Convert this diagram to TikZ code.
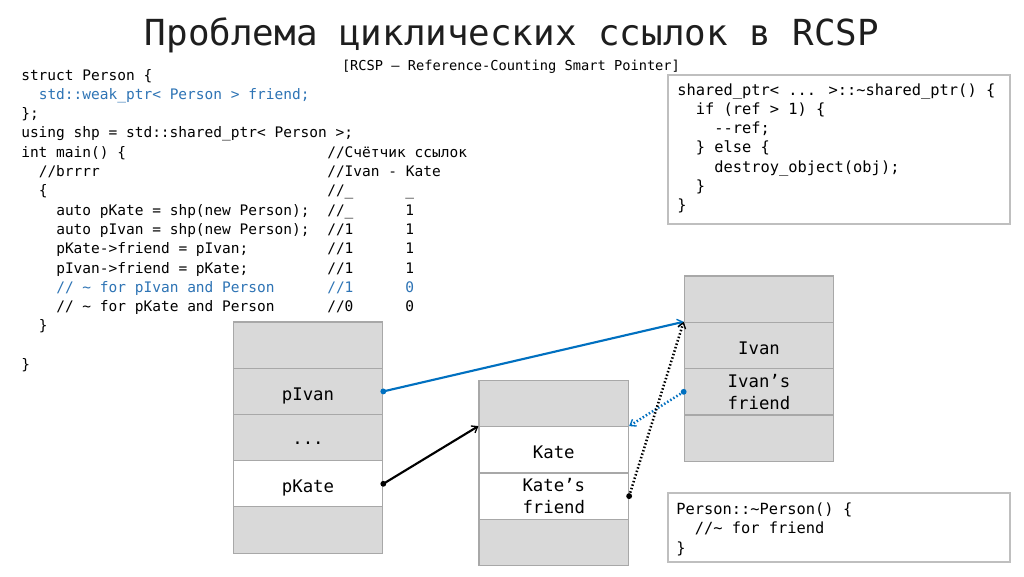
\documentclass[tikz,border=0pt]{standalone}
\usepackage{fontspec}
\usetikzlibrary{arrows.meta}
\newfontfamily\mono{DejaVu Sans Mono}
\definecolor{cblue}{RGB}{0,112,192}
\definecolor{ctxtblue}{RGB}{46,116,181}
\definecolor{cellgray}{RGB}{217,217,217}
\definecolor{cellline}{RGB}{168,168,168}
\definecolor{boxline}{RGB}{191,191,191}
\definecolor{titlecol}{RGB}{30,30,30}
\begin{document}
\begin{tikzpicture}[x=0.75pt,y=-0.75pt,
  code/.style={anchor=base west, inner sep=0pt, font=\mono\fontsize{10.88}{13}\selectfont},
  bcode/.style={anchor=base west, inner sep=0pt, font=\mono\fontsize{11.54}{14}\selectfont},
  bluetxt/.style={text=ctxtblue},
  cell/.style={draw=cellline, line width=0.9pt, fill=cellgray, minimum width=112.1pt, minimum height=34.7pt, inner sep=0pt, font=\mono\fontsize{13}{16.4}\selectfont, align=center},
  wcell/.style={cell, fill=white},
  oneline/.style={text height=13.5pt, text depth=0pt},
  codebox/.style={draw=boxline, line width=0.8pt, fill=white, minimum width=256.5pt, inner sep=0pt},
  tipbarb/.style={-{Straight Barb[length=4pt,width=6pt,line width=1pt]}},
  solidarrow/.style={tipbarb, line width=1.6pt},
  dottedarrow/.style={tipbarb, line width=1.9pt, dash pattern=on 1.1pt off 1.6pt},
  enddot/.style={radius=2.2pt}
]
\useasboundingbox (0,0) rectangle (1024,576);
\fill[white] (0,0) rectangle (1024,576);

% title
\node[anchor=base, inner sep=0pt, text=titlecol, font=\mono\fontsize{26.9}{30}\selectfont] (title) at (512,45) {Проблема циклических ссылок в RCSP};
\node[anchor=base, inner sep=0pt, font=\mono\fontsize{10.27}{12}\selectfont] (subtitle) at (511,70) {[RCSP – Reference-Counting Smart Pointer]};

% left code
\node[code] (c0) at (21,80) {struct Person \{};
\node[code, bluetxt] (c1) at (38.5,99.3) {std::weak\_ptr< Person > friend;};
\node[code] (c2) at (21,118.6) {\};};
\node[code] (c3) at (21,137.9) {using shp = std::shared\_ptr< Person >;};
\node[code] (c4) at (21,157.2) {int main() \{};
\node[code] (c4b) at (327,157.2) {//Счётчик ссылок};
\node[code] (c5) at (38.5,176.5) {//brrrr};
\node[code] (c5b) at (327,176.5) {//Ivan - Kate};
\node[code] (c6) at (38.5,195.8) {\{};
\node[code] (c6b) at (327,195.8) {//\_};
\node[code] (c6c) at (405,195.8) {\_};
\node[code] (c7) at (56,215.1) {auto pKate = shp(new Person);};
\node[code] (c7b) at (327,215.1) {//\_};
\node[code] (c7c) at (405,215.1) {1};
\node[code] (c8) at (56,234.4) {auto pIvan = shp(new Person);};
\node[code] (c8b) at (327,234.4) {//1};
\node[code] (c8c) at (405,234.4) {1};
\node[code] (c9) at (56,253.7) {pKate->friend = pIvan;};
\node[code] (c9b) at (327,253.7) {//1};
\node[code] (c9c) at (405,253.7) {1};
\node[code] (c10) at (56,273) {pIvan->friend = pKate;};
\node[code] (c10b) at (327,273) {//1};
\node[code] (c10c) at (405,273) {1};
\node[code, bluetxt] (c11) at (56,292.3) {// \textasciitilde{} for pIvan and Person};
\node[code, bluetxt] (c11b) at (327,292.3) {//1};
\node[code, bluetxt] (c11c) at (405,292.3) {0};
\node[code] (c12) at (56,311.6) {// \textasciitilde{} for pKate and Person};
\node[code] (c12b) at (327,311.6) {//0};
\node[code] (c12c) at (405,311.6) {0};
\node[code] (c13) at (38.5,330.9) {\}};
\node[code] (c15) at (21,369.5) {\}};

% code box 1
\node[codebox, minimum height=111.75pt] (B1) at (839,149.5) {};
\node[bcode] (b0) at (677,95) {shared\_ptr< ... >::\textasciitilde shared\_ptr() \{};
\node[bcode] (b1) at (695.5,114.3) {if (ref > 1) \{};
\node[bcode] (b2) at (714,133.6) {-{}-ref;};
\node[bcode] (b3) at (695.5,152.9) {\} else \{};
\node[bcode] (b4) at (714,172.2) {destroy\_object(obj);};
\node[bcode] (b5) at (695.5,191.5) {\}};
\node[bcode] (b6) at (677,210.8) {\}};

% code box 2
\node[codebox, minimum height=51.75pt] (B2) at (839,527.5) {};
\node[bcode] (d0) at (676,514) {Person::\textasciitilde Person() \{};
\node[bcode] (d1) at (694.5,533.5) {//\textasciitilde{} for friend};
\node[bcode] (d2) at (676,553) {\}};

% left memory column
\node[cell] (L1) at (308,345.2) {};
\node[cell, oneline] (L2) at (308,391.4) {pIvan};
\node[cell, text height=11pt, text depth=0pt] (L3) at (308,437.6) {...};
\node[wcell, oneline] (L4) at (308,483.8) {pKate};
\node[cell] (L5) at (308,530) {};

% middle memory column
\node[cell] (M1) at (553.8,403.5) {};
\node[wcell, oneline] (M2) at (553.8,449.8) {Kate};
\node[wcell] (M3) at (553.8,496.1) {Kate’s\\friend};
\node[cell] (M4) at (553.8,542.4) {};

% right memory column
\node[cell] (R1) at (759,299.2) {};
\node[cell, oneline] (R2) at (759,345.5) {Ivan};
\node[cell] (R3) at (759,391.8) {Ivan’s\\friend};
\node[cell] (R4) at (759,438.1) {};

% connectors
\draw[solidarrow, cblue] (L2.east) -- (R2.north west);
\fill[cblue] (L2.east) circle[enddot];
\draw[solidarrow, black] (L4.east) -- (M2.north west);
\fill[black] (L4.east) circle[enddot];
\draw[dottedarrow, cblue] (R3.west) -- (M2.north east);
\fill[cblue] (R3.west) circle[enddot];
\draw[dottedarrow, black] (M3.east) -- (R2.north west);
\fill[black] (M3.east) circle[enddot];
\end{tikzpicture}
\end{document}
